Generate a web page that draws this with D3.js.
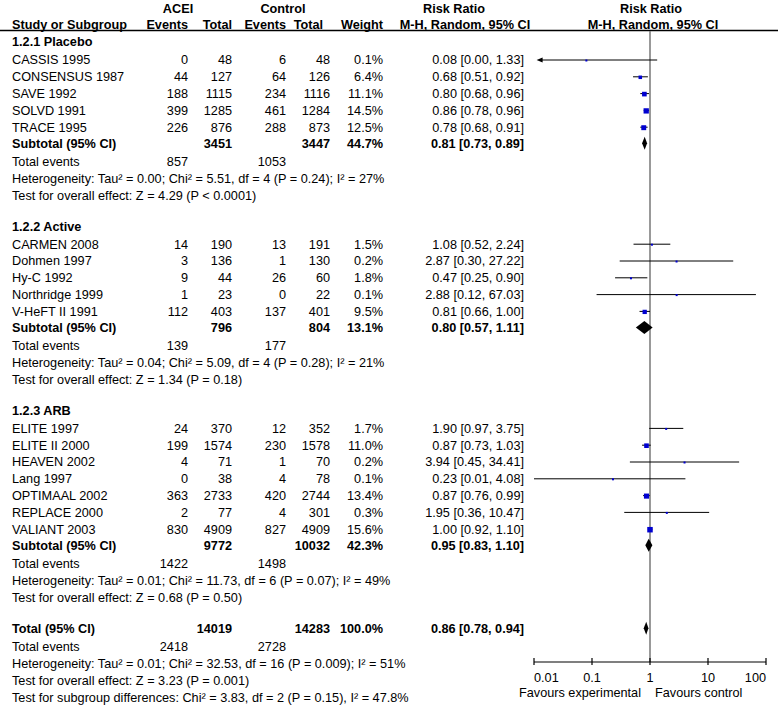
<!DOCTYPE html>
<html>
<head>
<meta charset="utf-8">
<script src="https://cdn.jsdelivr.net/npm/d3@7"></script>
<style>
  body { margin: 0; background: #fff; }
  svg { display: block; font-family: Arial, "Liberation Sans", sans-serif; font-size: 12.7px; }
  .b { font-weight: bold; }
</style>
</head>
<body>
<svg id="chart" width="778" height="706"></svg>
<script>
// study level data
var groupNames = ["1.2.1 Placebo", "1.2.2 Active", "1.2.3 ARB"];
var studyGroup = [0,0,0,0,0, 1,1,1,1,1, 2,2,2,2,2,2,2];
var studyNames = ["CASSIS 1995","CONSENSUS 1987","SAVE 1992","SOLVD 1991","TRACE 1995",
  "CARMEN 2008","Dohmen 1997","Hy-C 1992","Northridge 1999","V-HeFT II 1991",
  "ELITE 1997","ELITE II 2000","HEAVEN 2002","Lang 1997","OPTIMAAL 2002","REPLACE 2000","VALIANT 2003"];
var aceiEvents = [0,44,188,399,226, 14,3,9,1,112, 24,199,4,0,363,2,830];
var aceiTotal  = [48,127,1115,1285,876, 190,136,44,23,403, 370,1574,71,38,2733,77,4909];
var ctrlEvents = [6,64,234,461,288, 13,1,26,0,137, 12,230,1,4,420,4,827];
var ctrlTotal  = [48,126,1116,1284,873, 191,130,60,22,401, 352,1578,70,78,2744,301,4909];
var weights    = [0.1,6.4,11.1,14.5,12.5, 1.5,0.2,1.8,0.1,9.5, 1.7,11.0,0.2,0.1,13.4,0.3,15.6];
var rr    = [0.08,0.68,0.80,0.86,0.78, 1.08,2.87,0.47,2.88,0.81, 1.90,0.87,3.94,0.23,0.87,1.95,1.00];
var lower = [0.00,0.51,0.68,0.78,0.68, 0.52,0.30,0.25,0.12,0.66, 0.97,0.73,0.45,0.01,0.76,0.36,0.92];
var upper = [1.33,0.92,0.96,0.96,0.91, 2.24,27.22,0.90,67.03,1.00, 3.75,1.03,34.41,4.08,0.99,10.47,1.10];

// subgroup and overall totals (last entry = overall)
var subAceiTotal  = [3451, 796, 9772, 14019];
var subCtrlTotal  = [3447, 804, 10032, 14283];
var subWeight     = ["44.7%", "13.1%", "42.3%", "100.0%"];
var subRR    = [0.81, 0.80, 0.95, 0.86];
var subLower = [0.73, 0.57, 0.83, 0.78];
var subUpper = [0.89, 1.11, 1.10, 0.94];
var subAceiEvents = [857, 139, 1422, 2418];
var subCtrlEvents = [1053, 177, 1498, 2728];
var subHet = [
  "Heterogeneity: Tau² = 0.00; Chi² = 5.51, df = 4 (P = 0.24); I² = 27%",
  "Heterogeneity: Tau² = 0.04; Chi² = 5.09, df = 4 (P = 0.28); I² = 21%",
  "Heterogeneity: Tau² = 0.01; Chi² = 11.73, df = 6 (P = 0.07); I² = 49%",
  "Heterogeneity: Tau² = 0.01; Chi² = 32.53, df = 16 (P = 0.009); I² = 51%"];
var subTest = [
  "Test for overall effect: Z = 4.29 (P < 0.0001)",
  "Test for overall effect: Z = 1.34 (P = 0.18)",
  "Test for overall effect: Z = 0.68 (P = 0.50)",
  "Test for overall effect: Z = 3.23 (P = 0.001)"];
var subgroupTest = "Test for subgroup differences: Chi² = 3.83, df = 2 (P = 0.15), I² = 47.8%";

var axisTicks = [0.01, 0.1, 1, 10, 100];

var svg = d3.select("#chart");
var f2 = d3.format(".2f");

// column anchors
var col = { name: 12, aE: 188, aT: 232, cE: 286, cT: 330, w: 383, ci: 524 };
var x = d3.scaleLog().domain([0.01, 100]).range([534, 766]);
var box = d3.scaleSqrt().domain([0, 15.6]).range([0, 5.5]);

// build row list with y positions
var rows = [];
var y = 42;
groupNames.forEach(function (g, gi) {
  rows.push({ kind: "title", y: y, label: g });
  var idx = d3.range(studyNames.length).filter(function (i) { return studyGroup[i] == gi; });
  y += 18;
  idx.forEach(function (i, k) {
    rows.push({ kind: "study", y: y, i: i });
    y += 16.8;
  });
  y -= 0.8;
  rows.push({ kind: "sub", y: y, s: gi, label: "Subtotal (95% CI)" });
  y += 18; rows.push({ kind: "events", y: y, s: gi });
  y += 17; rows.push({ kind: "text", y: y, label: subHet[gi] });
  y += 17; rows.push({ kind: "text", y: y, label: subTest[gi] });
  y += 31;
});
rows.push({ kind: "sub", y: y, s: 3, label: "Total (95% CI)" });
y += 18; rows.push({ kind: "events", y: y, s: 3 });
y += 17; rows.push({ kind: "text", y: y, label: subHet[3] });
y += 17; rows.push({ kind: "text", y: y, label: subTest[3] });
y += 17; rows.push({ kind: "text", y: y, label: subgroupTest });

function txt(g, xx, yy, s, anchor, bold) {
  return g.append("text").attr("x", xx).attr("y", yy).attr("dy", "0.35em")
    .attr("text-anchor", anchor || "start").attr("class", bold ? "b" : null).text(s);
}

// header
var hd = svg.append("g");
txt(hd, 178, 9, "ACEI", "middle", true);
txt(hd, 283, 9, "Control", "middle", true);
txt(hd, 454, 9, "Risk Ratio", "middle", true);
txt(hd, 651, 9, "Risk Ratio", "middle", true);
txt(hd, col.name, 25, "Study or Subgroup", "start", true);
txt(hd, 188, 25, "Events", "end", true);
txt(hd, 232, 25, "Total", "end", true);
txt(hd, 286, 25, "Events", "end", true);
txt(hd, 323, 25, "Total", "end", true);
txt(hd, 383, 25, "Weight", "end", true);
txt(hd, 465, 25, "M-H, Random, 95% CI", "middle", true);
txt(hd, 653, 25, "M-H, Random, 95% CI", "middle", true);
hd.append("line").attr("x1", 0).attr("x2", 778).attr("y1", 30.5).attr("y2", 30.5)
  .attr("stroke", "#000").attr("stroke-width", 1.5);

// vertical line of no effect
var axisY = 662;
svg.append("line").attr("x1", x(1)).attr("x2", x(1)).attr("y1", 31).attr("y2", axisY)
  .attr("stroke", "#777").attr("stroke-width", 1.5);

svg.append("defs").append("marker")
  .attr("id", "arrow").attr("viewBox", "0 -5 10 10")
  .attr("refX", 1).attr("refY", 0)
  .attr("markerWidth", 8).attr("markerHeight", 6)
  .attr("orient", "auto")
  .append("path").attr("d", "M0,-4L10,0L0,4Z").attr("fill", "#000");

var body = svg.append("g");
rows.forEach(function (r) {
  if (r.kind == "title") {
    txt(body, col.name, r.y, r.label, "start", true);
  } else if (r.kind == "study") {
    var i = r.i;
    txt(body, col.name, r.y, studyNames[i]);
    txt(body, col.aE, r.y, aceiEvents[i], "end");
    txt(body, col.aT, r.y, aceiTotal[i], "end");
    txt(body, col.cE, r.y, ctrlEvents[i], "end");
    txt(body, col.cT, r.y, ctrlTotal[i], "end");
    txt(body, col.w, r.y, weights[i].toFixed(1) + "%", "end");
    txt(body, col.ci, r.y, f2(rr[i]) + " [" + f2(lower[i]) + ", " + f2(upper[i]) + "]", "end");
    var lo = lower[i] < 0.01 ? 0.01 : lower[i];
    var ln = body.append("line")
      .attr("x1", x(upper[i])).attr("x2", lower[i] < 0.01 ? x(lo) + 8 : x(lo))
      .attr("y1", r.y).attr("y2", r.y)
      .attr("stroke", "#000").attr("stroke-width", 1);
    if (lower[i] < 0.01) ln.attr("marker-end", "url(#arrow)");
    var s = Math.max(2, box(weights[i]));
    body.append("rect").attr("x", x(rr[i]) - s / 2).attr("y", r.y - s / 2 + 0.5)
      .attr("width", s).attr("height", s).attr("fill", "#0000d0");
  } else if (r.kind == "sub") {
    var k = r.s;
    txt(body, col.name, r.y, r.label, "start", true);
    txt(body, col.aT, r.y, subAceiTotal[k], "end", true);
    txt(body, col.cT, r.y, subCtrlTotal[k], "end", true);
    txt(body, col.w, r.y, subWeight[k], "end", true);
    txt(body, col.ci, r.y, f2(subRR[k]) + " [" + f2(subLower[k]) + ", " + f2(subUpper[k]) + "]", "end", true);
    var h = 6.5;
    var pts = [[x(subLower[k]), r.y], [x(subRR[k]), r.y - h], [x(subUpper[k]), r.y], [x(subRR[k]), r.y + h]];
    body.append("path").attr("d", d3.line()(pts) + "Z").attr("fill", "#000");
  } else if (r.kind == "events") {
    txt(body, col.name, r.y, "Total events");
    txt(body, col.aE, r.y, subAceiEvents[r.s], "end");
    txt(body, col.cE, r.y, subCtrlEvents[r.s], "end");
  } else {
    txt(body, col.name, r.y, r.label);
  }
});

// axis
var ax = svg.append("g");
ax.append("line").attr("x1", x(0.01)).attr("x2", x(100)).attr("y1", axisY).attr("y2", axisY)
  .attr("stroke", "#000").attr("stroke-width", 1.2);
ax.selectAll(".tk").data(axisTicks).enter().append("line")
  .attr("x1", function (d) { return x(d); }).attr("x2", function (d) { return x(d); })
  .attr("y1", axisY - 4).attr("y2", axisY + 3)
  .attr("stroke", "#000").attr("stroke-width", 1.2);
ax.selectAll(".tl").data(axisTicks).enter().append("text")
  .attr("x", function (d) { return x(d); }).attr("y", axisY + 16).attr("dy", "0.35em")
  .attr("text-anchor", function (d, i) { return i == 0 ? "start" : (i == axisTicks.length - 1 ? "end" : "middle"); })
  .text(function (d) { return String(d); });
txt(ax, x(1) - 9, axisY + 31, "Favours experimental", "end");
txt(ax, x(1) + 5, axisY + 31, "Favours control", "start");
</script>
</body>
</html>
